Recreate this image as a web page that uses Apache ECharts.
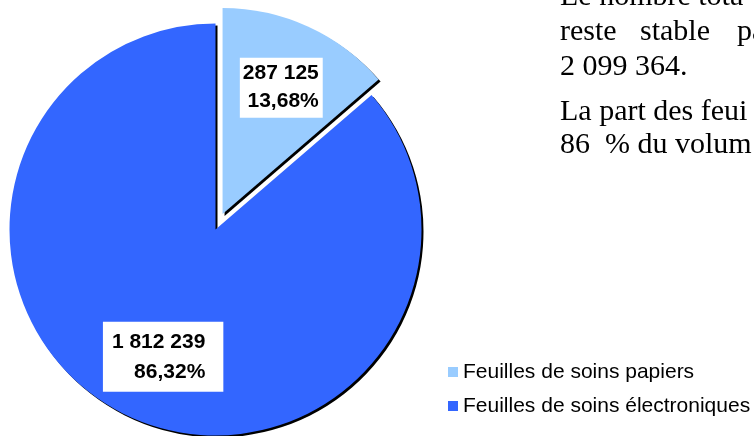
<!DOCTYPE html>
<html>
<head>
<meta charset="utf-8">
<script src="https://cdn.jsdelivr.net/npm/echarts@6/dist/echarts.min.js"></script>
<style>
  html, body { margin: 0; padding: 0; background: #fff; }
  #main { width: 754px; height: 436px; }
</style>
</head>
<body>
<div id="main"></div>
<script>
// données
const categories = ["Feuilles de soins papiers", "Feuilles de soins électroniques"];
const values = [287125, 1812239];
const colors = ["#99CCFF", "#3366FF"];
// texte à droite (coupé par le bord)
const textWords = [
  ["Le nombre tota"],
  ["reste", "stable", "pa"],
  ["2 099 364."],
  ["La part des feui"],
  ["86  % du volum"]
];

const fmtNum = (v) => String(v).replace(/\B(?=(\d{3})+(?!\d))/g, " ");

const myChart = echarts.init(document.getElementById("main"));

const serif = "30px 'Liberation Serif'";
const textY = [-3, 32, 67, 112, 145];
const wordX = [560, 640, 737];

const graphic = [];
textWords.forEach((words, i) => {
  words.forEach((w, j) => {
    graphic.push({
      type: "text",
      left: wordX[j],
      top: textY[i] - 15,
      style: { text: w, font: serif, fill: "#000" }
    });
  });
});

const option = {
  animation: false,
  legend: {
    orient: "vertical",
    left: 443,
    top: 355,
    icon: "rect",
    itemWidth: 10,
    itemHeight: 10,
    itemGap: 10,
    selectedMode: false,
    textStyle: {
      fontFamily: "Liberation Sans",
      fontSize: 21,
      lineHeight: 24,
      color: "#000"
    },
    data: categories
  },
  graphic: graphic,
  series: [
    {
      type: "pie",
      center: [215.5, 229.5],
      radius: 206,
      startAngle: 90,
      clockwise: true,
      selectedMode: "single",
      selectedOffset: 17,
      emphasis: { disabled: true },
      percentPrecision: 2,
      itemStyle: {
        shadowColor: "#000",
        shadowBlur: 0,
        shadowOffsetX: 2,
        shadowOffsetY: 2
      },
      label: {
        show: true,
        position: "inside",
        formatter: (p) => fmtNum(p.value) + "\n" + p.percent.toFixed(2).replace(".", ",") + "%",
        fontFamily: "Liberation Sans",
        fontWeight: "bold",
        fontSize: 21,
        color: "#000",
        backgroundColor: "#fff"
      },
      // boîtes blanches décalées comme dans l'original
      labelLayout: (params) =>
        params.dataIndex === 0
          ? { dx: 56, dy: -30, align: "right", verticalAlign: "middle" }
          : { dx: 52, dy: 31, align: "right", verticalAlign: "middle" },
      labelLine: { show: false },
      data: categories.map((c, i) => ({
        name: c,
        value: values[i],
        selected: i === 0,
        itemStyle: { color: colors[i] },
        label: i === 0
          ? { lineHeight: 28, padding: [2, 4, 2, 3] }
          : { lineHeight: 30, padding: [5, 18, 5, 9] }
      }))
    }
  ]
};

option && myChart.setOption(option);
</script>
</body>
</html>
